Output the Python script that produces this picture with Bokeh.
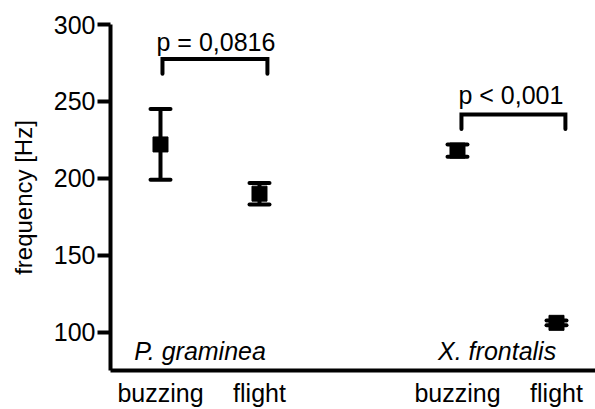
from bokeh.plotting import figure
from bokeh.models import Range1d, FixedTicker, Whisker, TeeHead, ColumnDataSource
from bokeh.core.properties import value
from bokeh.embed import file_html
from bokeh.resources import INLINE

# ---- data ----
x_pos = [1, 2, 4, 5]
x_labels = ["buzzing", "flight", "buzzing", "flight"]
means = [222, 190, 218, 106]
errors = [23, 7, 4, 1.5]
y_ticks = [100, 150, 200, 250, 300]

species = ["P. graminea", "X. frontalis"]
species_x = [1.40, 4.40]
species_y = [88, 88]

p_texts = ["p = 0,0816", "p < 0,001"]
p_text_x = [1.56, 4.54]
p_text_y = [288.5, 254]

bracket_left = [1.02, 4.04]
bracket_right = [2.08, 5.09]
bracket_top = [277.6, 241.5]
bracket_bottom = [268, 232]

FONT = "Liberation Sans"

p = figure(width=595, height=409, output_backend="svg", toolbar_location=None,
           x_range=Range1d(0.495, 5.394), y_range=Range1d(75, 300),
           min_border_left=110, min_border_right=0, min_border_top=24,
           min_border_bottom=38)
p.outline_line_color = None
p.xgrid.visible = False
p.ygrid.visible = False
p.background_fill_color = "white"
p.border_fill_color = "white"

# y axis
ya = p.yaxis[0]
ya.ticker = FixedTicker(ticks=y_ticks)
ya.axis_line_width = 4
ya.axis_line_color = "black"
ya.major_tick_line_width = 4
ya.major_tick_line_color = "black"
ya.major_tick_out = 13
ya.major_tick_in = 0
ya.minor_tick_line_color = None
ya.major_label_text_font = FONT
ya.major_label_text_font_size = "25px"
ya.major_label_text_color = "black"
ya.major_label_standoff = 2
ya.axis_label = "frequency [Hz]"
ya.axis_label_text_font = FONT
ya.axis_label_text_font_size = "24px"
ya.axis_label_text_font_style = "normal"
ya.axis_label_text_color = "black"
ya.axis_label_standoff = 14

# x axis
xa = p.xaxis[0]
xa.ticker = FixedTicker(ticks=x_pos)
xa.major_label_overrides = {x: lab for x, lab in zip(x_pos, x_labels)}
xa.axis_line_width = 4
xa.axis_line_color = "black"
xa.major_tick_line_color = None
xa.minor_tick_line_color = None
xa.major_tick_out = 0
xa.major_tick_in = 0
xa.major_label_text_font = FONT
xa.major_label_text_font_size = "25px"
xa.major_label_text_color = "black"
xa.major_label_standoff = 8

# error bars
src = ColumnDataSource(dict(
    x=x_pos,
    upper=[m + e for m, e in zip(means, errors)],
    lower=[m - e for m, e in zip(means, errors)],
))
w = Whisker(base="x", upper="upper", lower="lower", source=src,
            line_width=4, line_color="black",
            upper_head=TeeHead(size=20, line_width=4, line_color="black", line_cap="round"),
            lower_head=TeeHead(size=20, line_width=4, line_color="black", line_cap="round"))
p.add_layout(w)

p.scatter(x_pos, means, marker="square", size=15, color="black")

# significance brackets
xs = [[l, l, r, r] for l, r in zip(bracket_left, bracket_right)]
ys = [[b, t, t, b] for b, t in zip(bracket_bottom, bracket_top)]
p.multi_line(xs=xs, ys=ys, line_width=4, line_color="black",
             line_cap="round", line_join="miter")

p.text(x=p_text_x, y=p_text_y, text=p_texts, text_font=value(FONT),
       text_font_size="25px", text_align="center", text_baseline="alphabetic",
       text_color="black")

p.text(x=species_x, y=species_y, text=species, text_font=value(FONT),
       text_font_size="25px", text_font_style="italic", text_align="center",
       text_baseline="alphabetic", text_color="black")

open("out.html", "w").write(file_html(p, INLINE))
